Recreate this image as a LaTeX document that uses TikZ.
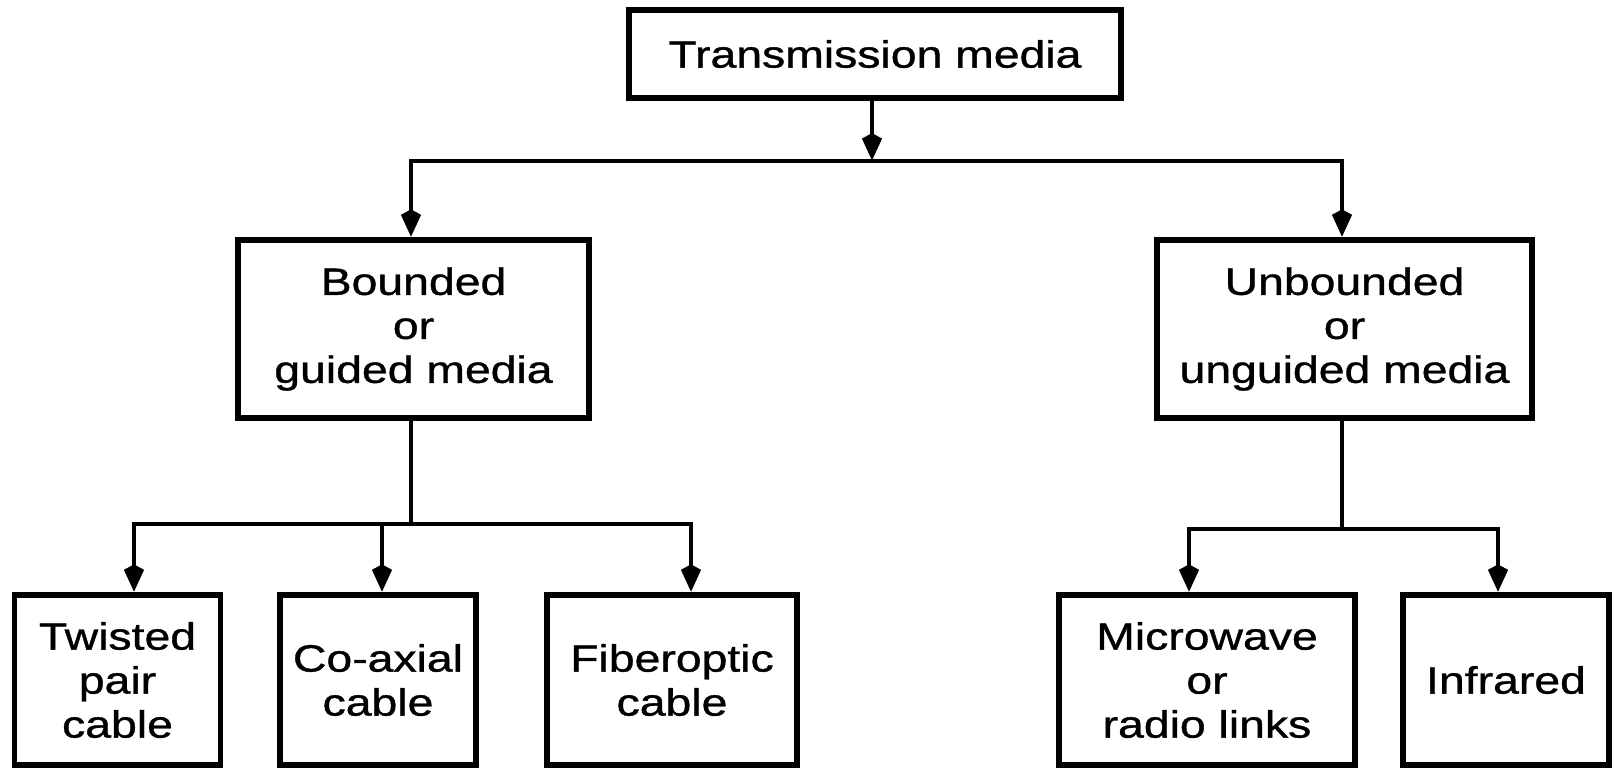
\documentclass[tikz,border=0pt]{standalone}
\usepackage{fontspec}
\setmainfont{Liberation Sans}[FakeStretch=1.22,FakeBold=1]
\usetikzlibrary{arrows.meta}
\begin{document}
\begin{tikzpicture}[x=1pt,y=-1pt,
  box/.style={draw, line width=5.5pt, align=center, inner sep=0pt,
    font=\fontsize{38}{44}\selectfont},
  link/.style={line width=4.2pt, line cap=rect},
  arr/.style={line width=4.2pt, -{Stealth[length=22pt,width=18pt,inset=-6pt]}}]
\useasboundingbox (0,0) rectangle (1612,768);

% classification boxes
\node[box, minimum width=492pt, minimum height=88pt] (root) at (875,54) {Transmission media};
\node[box, minimum width=351pt, minimum height=178pt] (bounded) at (413.5,329) {Bounded\\or\\guided media};
\node[box, minimum width=375pt, minimum height=178pt] (unbounded) at (1344.5,329) {Unbounded\\or\\unguided media};
\node[box, minimum width=206pt, minimum height=170pt] (twisted) at (117.5,680) {Twisted\\pair\\cable};
\node[box, minimum width=196pt, minimum height=170pt] (coax) at (378,680) {Co-axial\\cable};
\node[box, minimum width=250pt, minimum height=170pt] (fiber) at (672,680) {Fiberoptic\\cable};
\node[box, minimum width=296pt, minimum height=170pt] (micro) at (1207,680) {Microwave\\or\\radio links};
\node[box, minimum width=206pt, minimum height=170pt] (infra) at (1506,680) {Infrared};

% junction points of the branch bars
\coordinate (hub) at (872,161);
\coordinate (bl) at (411,161);
\coordinate (br) at (1342,161);
\coordinate (lj) at (411,524);
\coordinate (l1) at (134,524);
\coordinate (l2) at (382,524);
\coordinate (l3) at (691,524);
\coordinate (rj) at (1342,529);
\coordinate (r1) at (1189,529);
\coordinate (r2) at (1498,529);

% first level
\draw[arr] (root.south -| hub) -- (hub);
\draw[link] (bl) -- (br);
\draw[arr] (bl) -- (bl |- bounded.north);
\draw[arr] (br) -- (br |- unbounded.north);

% guided media branches
\draw[link] (bounded.south -| lj) -- (lj);
\draw[link] (l1) -- (l3);
\draw[arr] (l1) -- (l1 |- twisted.north);
\draw[arr] (l2) -- (l2 |- coax.north);
\draw[arr] (l3) -- (l3 |- fiber.north);

% unguided media branches
\draw[link] (unbounded.south -| rj) -- (rj);
\draw[link] (r1) -- (r2);
\draw[arr] (r1) -- (r1 |- micro.north);
\draw[arr] (r2) -- (r2 |- infra.north);
\end{tikzpicture}
\end{document}
